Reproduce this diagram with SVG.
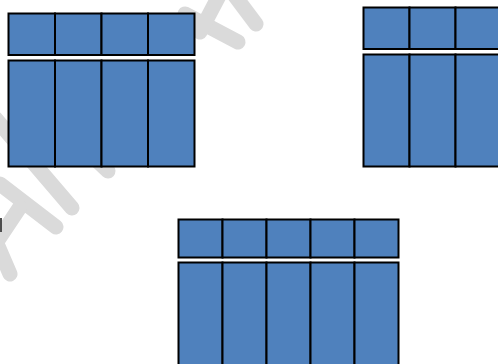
<svg xmlns="http://www.w3.org/2000/svg" width="498" height="364" viewBox="0 0 498 364">
<style>
.c{fill:#4f81bd;stroke:#000;stroke-width:2}
.wm{stroke:#dadada;stroke-width:15;stroke-linecap:round;fill:none}
</style>
<rect width="498" height="364" fill="#fff"/>
<g id="watermark">
<line class="wm" x1="232" y1="-8" x2="256" y2="24"/>
<line class="wm" x1="185" y1="14" x2="238" y2="42"/>
<line class="wm" x1="200" y1="32" x2="220" y2="-6"/>
<line class="wm" x1="-5" y1="118" x2="72" y2="208"/>
<line class="wm" x1="70" y1="135" x2="108" y2="171"/>
<line class="wm" x1="0" y1="184" x2="56" y2="227"/>
<line class="wm" x1="-8" y1="232" x2="10" y2="274"/>
<line class="wm" x1="-4" y1="243" x2="20" y2="207"/>
</g>
<rect id="edge-mark" x="0" y="218" width="2" height="14" fill="#4d4d4d"/>
<g id="grid-top-left">
<rect class="c" x="8.5" y="13.5" width="46.5" height="41.5"/>
<rect class="c" x="55" y="13.5" width="46.5" height="41.5"/>
<rect class="c" x="101.5" y="13.5" width="46.5" height="41.5"/>
<rect class="c" x="148" y="13.5" width="46.5" height="41.5"/>
<rect class="c" x="8.5" y="60.5" width="46.5" height="106"/>
<rect class="c" x="55" y="60.5" width="46.5" height="106"/>
<rect class="c" x="101.5" y="60.5" width="46.5" height="106"/>
<rect class="c" x="148" y="60.5" width="46.5" height="106"/>
</g>
<g id="grid-top-right">
<rect class="c" x="363.5" y="7.5" width="46" height="41.5"/>
<rect class="c" x="409.5" y="7.5" width="46" height="41.5"/>
<rect class="c" x="455.5" y="7.5" width="46" height="41.5"/>
<rect class="c" x="363.5" y="54.5" width="46" height="112"/>
<rect class="c" x="409.5" y="54.5" width="46" height="112"/>
<rect class="c" x="455.5" y="54.5" width="46" height="112"/>
</g>
<g id="grid-bottom">
<rect class="c" x="178.5" y="219.5" width="44" height="38"/>
<rect class="c" x="222.5" y="219.5" width="44" height="38"/>
<rect class="c" x="266.5" y="219.5" width="44" height="38"/>
<rect class="c" x="310.5" y="219.5" width="44" height="38"/>
<rect class="c" x="354.5" y="219.5" width="44" height="38"/>
<rect class="c" x="178.5" y="262.5" width="44" height="120"/>
<rect class="c" x="222.5" y="262.5" width="44" height="120"/>
<rect class="c" x="266.5" y="262.5" width="44" height="120"/>
<rect class="c" x="310.5" y="262.5" width="44" height="120"/>
<rect class="c" x="354.5" y="262.5" width="44" height="120"/>
</g>
<g id="connectors"/>
</svg>
